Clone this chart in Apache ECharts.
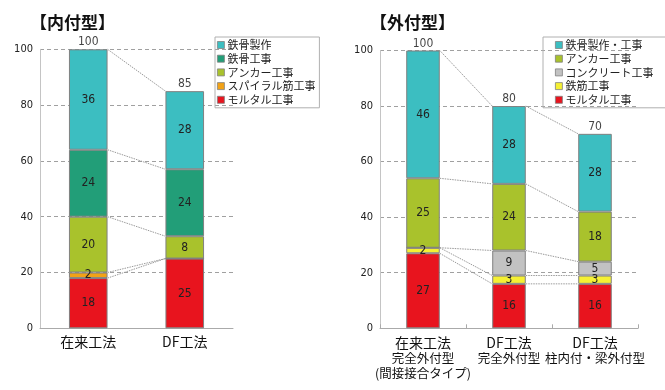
<!DOCTYPE html>
<html><head><meta charset="utf-8">
<script src="https://cdn.jsdelivr.net/npm/echarts@6/dist/echarts.min.js"></script>
<style>html,body{margin:0;padding:0;background:#fff}#c{width:665px;height:390px}</style>
</head><body><div id="c"></div><script>
// ---- data ----
const leftCategories = ['在来工法', 'DF工法'];
const leftNames = ['モルタル工事', 'スパイラル筋工事', 'アンカー工事', '鉄骨工事', '鉄骨製作'];
const leftMortar = [18, 25];
const leftSpiral = [2, 0];
const leftAnchor = [20, 8];
const leftSteelWork = [24, 24];
const leftSteelFab = [36, 28];
const leftTotals = [100, 85];

const rightCategories = ['在来工法\n完全外付型\n(間接接合タイプ)', 'DF工法\n完全外付型', 'DF工法\n柱内付・梁外付型'];
const rightNames = ['モルタル工事', '鉄筋工事', 'コンクリート工事', 'アンカー工事', '鉄骨製作・工事'];
const rightMortar = [27, 16, 16];
const rightRebar = [2, 3, 3];
const rightConcrete = [0, 9, 5];
const rightAnchor = [25, 24, 18];
const rightSteel = [46, 28, 28];
const rightTotals = [100, 80, 70];

const yMin = 0, yMax = 100, yStep = 20;

// ---- styles ----
const colors = {
  'モルタル工事': '#E8141E',
  'スパイラル筋工事': '#F2A216',
  'アンカー工事': '#A9C22C',
  '鉄骨工事': '#229E78',
  '鉄骨製作': '#3CBEC1',
  '鉄筋工事': '#F5F033',
  'コンクリート工事': '#C2C2C2',
  '鉄骨製作・工事': '#3CBEC1'
};
const NUM_FONT = "'Liberation Sans Narrow','DejaVu Sans Condensed',sans-serif";
const JP_FONT = "'Noto Sans CJK JP',sans-serif";
const LEFT_RATIO = 0.40, RIGHT_RATIO = 0.39;

function cumTops(list) {
  let acc = list[0].map(() => 0);
  return list.map(s => { acc = acc.map((a, i) => a + s[i]); return acc.slice(); });
}
function connectorData(tops) {
  const d = [];
  tops.forEach(t => { for (let i = 0; i < t.length - 1; i++) d.push([i, t[i], t[i + 1]]); });
  return d;
}
function makeRender(ratio) {
  return function (params, api) {
    const i = api.value(0);
    const p1 = api.coord([i, api.value(1)]);
    const p2 = api.coord([i + 1, api.value(2)]);
    const half = api.size([1, 0])[0] * ratio / 2;
    return {
      type: 'line', silent: true,
      shape: { x1: p1[0] + half, y1: p1[1], x2: p2[0] - half, y2: p2[1] },
      style: { stroke: '#9a9a9a', lineWidth: 1, lineDash: [1.5, 1] }
    };
  };
}
function barSeries(name, data, idx, stack, width) {
  return {
    type: 'bar', name, data, stack, xAxisIndex: idx, yAxisIndex: idx,
    barWidth: width, z: 3,
    itemStyle: { color: colors[name], borderColor: '#808080', borderWidth: 1 },
    label: {
      show: true, position: 'inside', color: '#222', fontSize: 12, fontFamily: NUM_FONT,
      formatter: p => (p.value > 0 ? p.value : '')
    }
  };
}

const leftList = [leftMortar, leftSpiral, leftAnchor, leftSteelWork, leftSteelFab];
const rightList = [rightMortar, rightRebar, rightConcrete, rightAnchor, rightSteel];

const series = [];
leftList.forEach((d, k) => series.push(barSeries(leftNames[k], d, 0, 'L', '40%')));
rightList.forEach((d, k) => series.push(barSeries(rightNames[k], d, 1, 'R', '39%')));
series.push({
  type: 'custom', xAxisIndex: 0, yAxisIndex: 0, clip: false, z: 2, silent: true,
  renderItem: makeRender(LEFT_RATIO), data: connectorData(cumTops(leftList))
});
series.push({
  type: 'custom', xAxisIndex: 1, yAxisIndex: 1, clip: false, z: 2, silent: true,
  renderItem: makeRender(RIGHT_RATIO), data: connectorData(cumTops(rightList))
});
[[leftTotals, 0], [rightTotals, 1]].forEach(([tot, idx]) => series.push({
  type: 'scatter', xAxisIndex: idx, yAxisIndex: idx, symbolSize: 0, silent: true, z: 5,
  data: tot.map((v, i) => [i, v]),
  label: { show: true, position: 'top', distance: 1, color: '#111', fontSize: 12, fontFamily: NUM_FONT,
    formatter: p => p.value[1] }
}));

function yAxis(idx) {
  return {
    type: 'value', gridIndex: idx, min: yMin, max: yMax, interval: yStep,
    axisLine: { show: true, lineStyle: { color: '#c4c4c4' } },
    axisTick: { show: false },
    axisLabel: { color: '#222', fontSize: 11, fontFamily: NUM_FONT, margin: 7 },
    splitLine: { show: true, lineStyle: { color: '#a0a0a0', type: [4, 3] } }
  };
}
function legend(names, left, pad) {
  return {
    orient: 'vertical', left, top: 37, data: names.slice().reverse(),
    icon: 'rect', itemWidth: 7, itemHeight: 7, itemGap: 1.7,
    borderColor: '#b0b0b0', borderWidth: 1, padding: pad, selectedMode: false,
    textStyle: { fontSize: 11, lineHeight: 12, color: '#222', fontFamily: JP_FONT, padding: [0, 0, 0, -2] },
    itemStyle: { borderColor: '#808080', borderWidth: 0.8 }
  };
}

const chart = echarts.init(document.getElementById('c'), null, { renderer: 'canvas' });
chart.setOption({
  animation: false,
  backgroundColor: '#fff',
  title: [
    { text: '【内付型】', left: 25, top: 9, textStyle: { fontSize: 17, fontWeight: 'bold', color: '#111', fontFamily: JP_FONT } },
    { text: '【外付型】', left: 365, top: 9, textStyle: { fontSize: 17, fontWeight: 'bold', color: '#111', fontFamily: JP_FONT } }
  ],
  legend: [legend(leftNames, 215, [2, 4, 2, 2]), legend(rightNames, 543, [2, 14, 2, 12])],
  grid: [
    { left: 40, top: 49.3, width: 193, height: 279 },
    { left: 380, top: 50.5, width: 258, height: 277.8 }
  ],
  xAxis: [
    { type: 'category', gridIndex: 0, data: leftCategories,
      axisLine: { lineStyle: { color: '#aaaaaa' } }, axisTick: { show: false },
      axisLabel: { interval: 0, color: '#111', fontSize: 14, fontFamily: JP_FONT, margin: 6 } },
    { type: 'category', gridIndex: 1, data: rightCategories,
      axisLine: { lineStyle: { color: '#aaaaaa' } },
      axisTick: { show: true, inside: true, length: 4, lineStyle: { color: '#aaaaaa' } },
      axisLabel: {
        interval: 0, hideOverlap: false, color: '#111', fontFamily: JP_FONT, margin: 6,
        formatter: v => v.split('\n').map((s, i) => (i === 0 ? '{a|' + s + '}' : '{b|' + s + '}')).join('\n'),
        rich: {
          a: { fontSize: 14, lineHeight: 16, color: '#111', fontFamily: JP_FONT },
          b: { fontSize: 12.5, lineHeight: 15.5, color: '#111', fontFamily: JP_FONT }
        }
      } }
  ],
  yAxis: [yAxis(0), yAxis(1)],
  series
});
</script></body></html>
